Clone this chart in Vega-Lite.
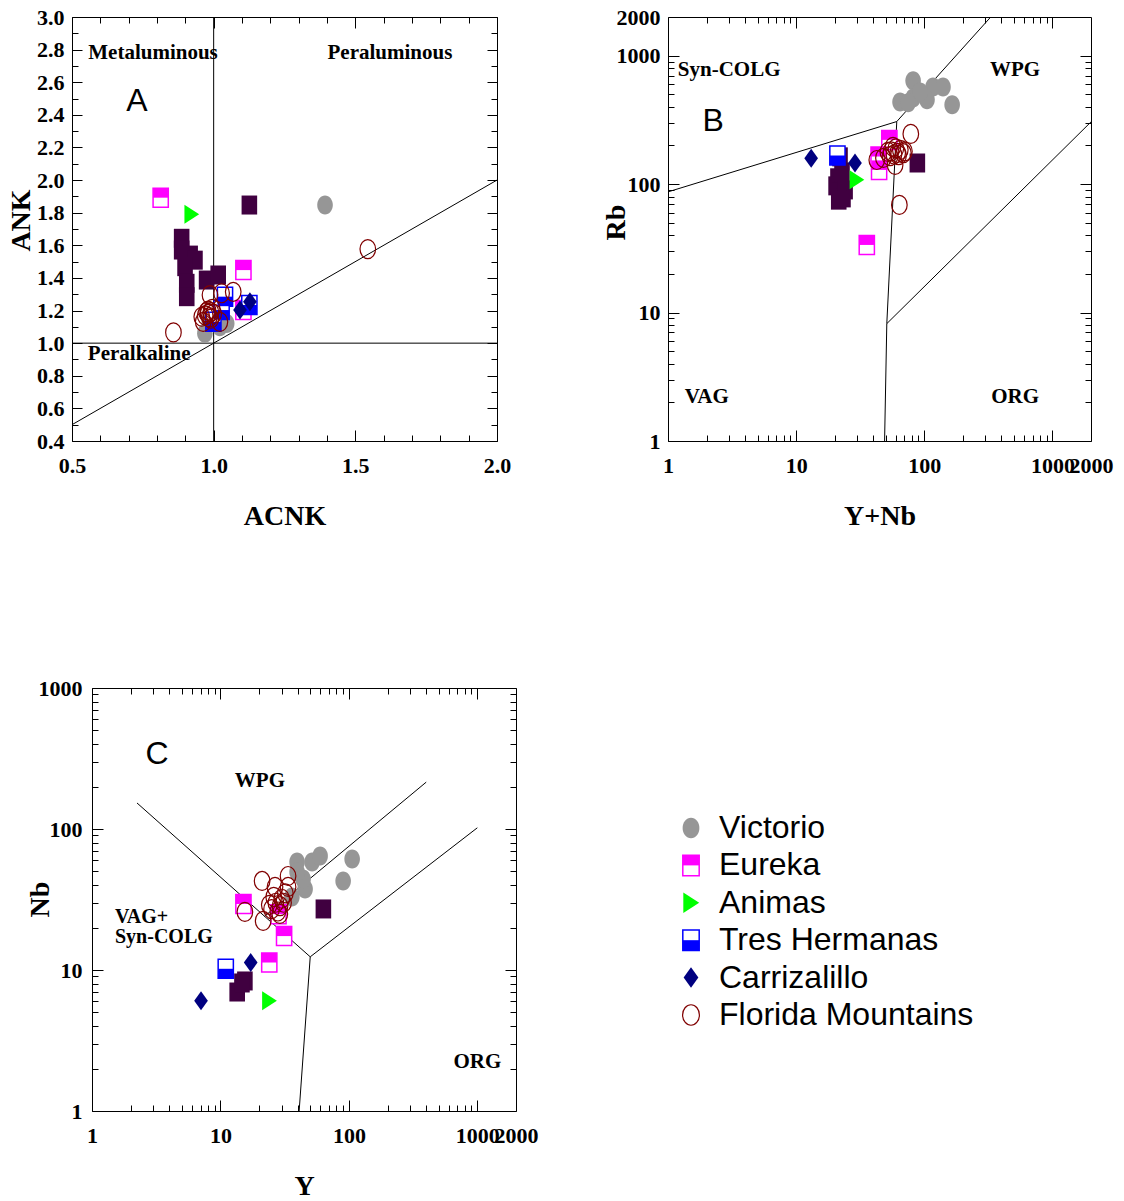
{
 "$schema": "https://vega.github.io/schema/vega-lite/v6.json",
 "padding": {"left": 0, "top": 1, "right": 0, "bottom": 0},
 "background": "white",
 "datasets": {
  "linesA": [{"x1":1,"y1":0.4,"x2":1,"y2":3},{"x1":0.5,"y1":1,"x2":2,"y2":1},{"x1":0.5,"y1":0.5,"x2":2,"y2":2}],
  "linesB": [{"x1":1,"y1":87,"x2":61,"y2":307},{"x1":61,"y1":307,"x2":330,"y2":2000},{"x1":61,"y1":307,"x2":51,"y2":8.2},{"x1":51,"y1":8.2,"x2":49,"y2":1},{"x1":51,"y1":8.2,"x2":2000,"y2":305}],
  "linesC": [{"x1":2.24,"y1":153,"x2":50,"y2":12.4},{"x1":50,"y1":12.4,"x2":41,"y2":1},{"x1":50,"y1":12.4,"x2":1000,"y2":102},{"x1":22,"y1":24,"x2":400,"y2":215}],
  "labA": [{"x":0.786,"y":2.779,"t":"Metaluminous","k":"r"},{"x":1.622,"y":2.779,"t":"Peraluminous","k":"r"},{"x":0.737,"y":0.933,"t":"Peralkaline","k":"r"},{"x":0.729,"y":2.485,"t":"A","k":"p"}],
  "labB": [{"x":3.0,"y":775,"t":"Syn-COLG","k":"r"},{"x":511,"y":775,"t":"WPG","k":"r"},{"x":2.01,"y":2.2,"t":"VAG","k":"r"},{"x":511,"y":2.2,"t":"ORG","k":"r"},{"x":2.25,"y":311,"t":"B","k":"p"}],
  "labC": [{"x":20.3,"y":219,"t":"WPG","k":"r"},{"x":1.51,"y":23.6,"t":["VAG+","Syn-COLG"],"k":"m"},{"x":1000,"y":2.23,"t":"ORG","k":"r"},{"x":3.21,"y":340,"t":"C","k":"p"}],
  "ptsA": [
   {"g":"Victorio","x":1.393,"y":1.847},{"g":"Victorio","x":0.969,"y":1.06},{"g":"Victorio","x":1.022,"y":1.10},{"g":"Victorio","x":1.046,"y":1.12},{"g":"Victorio","x":0.985,"y":1.13},
   {"g":"Other","x":0.887,"y":1.643},{"g":"Other","x":0.887,"y":1.571},{"g":"Other","x":0.917,"y":1.540},{"g":"Other","x":0.934,"y":1.509},{"g":"Other","x":0.899,"y":1.469},{"g":"Other","x":0.905,"y":1.367},{"g":"Other","x":0.905,"y":1.285},{"g":"Other","x":0.975,"y":1.387},{"g":"Other","x":1.016,"y":1.418},{"g":"Other","x":1.126,"y":1.847},
   {"g":"Eureka","x":0.813,"y":1.892},{"g":"Eureka","x":1.105,"y":1.448},{"g":"Eureka","x":1.105,"y":1.203},
   {"g":"Animas","x":0.922,"y":1.790},
   {"g":"Tres Hermanas","x":1.040,"y":1.285},{"g":"Tres Hermanas","x":1.126,"y":1.234},{"g":"Tres Hermanas","x":1.028,"y":1.203},{"g":"Tres Hermanas","x":0.999,"y":1.131},
   {"g":"Carrizalillo","x":1.128,"y":1.254},{"g":"Carrizalillo","x":1.093,"y":1.203},
   {"g":"Florida Mountains","x":0.97,"y":1.17},{"g":"Florida Mountains","x":0.98,"y":1.20},{"g":"Florida Mountains","x":0.99,"y":1.15},{"g":"Florida Mountains","x":1.0,"y":1.18},{"g":"Florida Mountains","x":0.975,"y":1.19},{"g":"Florida Mountains","x":0.995,"y":1.21},{"g":"Florida Mountains","x":0.985,"y":1.16},{"g":"Florida Mountains","x":0.99,"y":1.19},{"g":"Florida Mountains","x":0.98,"y":1.18},{"g":"Florida Mountains","x":1.028,"y":1.306},{"g":"Florida Mountains","x":1.069,"y":1.315},{"g":"Florida Mountains","x":0.987,"y":1.295},{"g":"Florida Mountains","x":0.858,"y":1.066},{"g":"Florida Mountains","x":0.958,"y":1.162},{"g":"Florida Mountains","x":0.963,"y":1.131},{"g":"Florida Mountains","x":1.022,"y":1.131},{"g":"Florida Mountains","x":1.544,"y":1.577}
  ],
  "ptsB": [
   {"g":"Victorio","x":81.8,"y":637},{"g":"Victorio","x":117,"y":571},{"g":"Victorio","x":140,"y":571},{"g":"Victorio","x":64.7,"y":436},{"g":"Victorio","x":81.8,"y":469},{"g":"Victorio","x":105,"y":453},{"g":"Victorio","x":92.7,"y":522},{"g":"Victorio","x":165,"y":414},{"g":"Victorio","x":74.8,"y":429},
   {"g":"Other","x":22,"y":163},{"g":"Other","x":21.2,"y":112},{"g":"Other","x":20.5,"y":96.9},{"g":"Other","x":22,"y":87},{"g":"Other","x":23.2,"y":78.1},{"g":"Other","x":24.1,"y":90.1},{"g":"Other","x":22.8,"y":124},{"g":"Other","x":21.5,"y":75},{"g":"Other","x":88.3,"y":146},
   {"g":"Eureka","x":53.4,"y":221},{"g":"Eureka","x":44.4,"y":129},{"g":"Eureka","x":44,"y":164},{"g":"Eureka","x":35.6,"y":33.6},
   {"g":"Animas","x":29.7,"y":108},
   {"g":"Tres Hermanas","x":21,"y":167},
   {"g":"Carrizalillo","x":13.1,"y":159},{"g":"Carrizalillo","x":28.8,"y":146},
   {"g":"Florida Mountains","x":55,"y":180},{"g":"Florida Mountains","x":60,"y":190},{"g":"Florida Mountains","x":62,"y":175},{"g":"Florida Mountains","x":58,"y":170},{"g":"Florida Mountains","x":65,"y":185},{"g":"Florida Mountains","x":52,"y":178},{"g":"Florida Mountains","x":57,"y":195},{"g":"Florida Mountains","x":63,"y":168},{"g":"Florida Mountains","x":68.7,"y":174},{"g":"Florida Mountains","x":59.2,"y":141},{"g":"Florida Mountains","x":42.6,"y":154},{"g":"Florida Mountains","x":78.5,"y":246},{"g":"Florida Mountains","x":63.9,"y":68.9},{"g":"Florida Mountains","x":48,"y":160},{"g":"Florida Mountains","x":70,"y":180},{"g":"Florida Mountains","x":54,"y":165}
  ],
  "ptsC": [
   {"g":"Victorio","x":39.5,"y":58.3},{"g":"Victorio","x":51.7,"y":58.3},{"g":"Victorio","x":59.7,"y":64.4},{"g":"Victorio","x":106,"y":61.3},{"g":"Victorio","x":90.2,"y":42.8},{"g":"Victorio","x":45.6,"y":37.5},{"g":"Victorio","x":44,"y":44.2},{"g":"Victorio","x":39.5,"y":49.5},{"g":"Victorio","x":36,"y":33},
   {"g":"Other","x":13.5,"y":6.98},{"g":"Other","x":15.5,"y":8.36},{"g":"Other","x":14.7,"y":8.09},{"g":"Other","x":63.3,"y":27.1},
   {"g":"Eureka","x":15.1,"y":29.4},{"g":"Eureka","x":31.3,"y":17.4},{"g":"Eureka","x":24.0,"y":11.3},{"g":"Eureka","x":28.3,"y":24.9},
   {"g":"Animas","x":24.0,"y":6.06},
   {"g":"Tres Hermanas","x":11.0,"y":10.2},
   {"g":"Carrizalillo","x":17.2,"y":11.3},{"g":"Carrizalillo","x":7.06,"y":6.06},
   {"g":"Florida Mountains","x":21.1,"y":42.8},{"g":"Florida Mountains","x":33.6,"y":46.4},{"g":"Florida Mountains","x":26.6,"y":38.8},{"g":"Florida Mountains","x":33.6,"y":38.8},{"g":"Florida Mountains","x":15.5,"y":25.8},{"g":"Florida Mountains","x":21.5,"y":22.3},{"g":"Florida Mountains","x":29.1,"y":28.4},{"g":"Florida Mountains","x":27,"y":30},{"g":"Florida Mountains","x":30,"y":32},{"g":"Florida Mountains","x":25,"y":27},{"g":"Florida Mountains","x":28,"y":26},{"g":"Florida Mountains","x":31,"y":30},{"g":"Florida Mountains","x":26,"y":33},{"g":"Florida Mountains","x":24,"y":29},{"g":"Florida Mountains","x":32,"y":35},{"g":"Florida Mountains","x":29,"y":25}
  ],
  "legend": [{"r":1,"g":"Victorio"},{"r":2,"g":"Eureka"},{"r":3,"g":"Animas"},{"r":4,"g":"Tres Hermanas"},{"r":5,"g":"Carrizalillo"},{"r":6,"g":"Florida Mountains"}]
 },
 "spacing": 135,
 "vconcat": [
  {
   "spacing": 0,
   "hconcat": [
    {"width": 1, "height": 1, "view": {"stroke": null}, "data": {"values": [{"a": 0}]}, "mark": {"type": "point", "size": 1, "opacity": 0}},
    {
     "spacing": 75,
     "hconcat": [
      {
       "width": 425, "height": 424,
       "resolve": {"axis": {"x": "independent", "y": "independent"}},
       "layer": [
        {"data": {"name": "linesA"}, "mark": {"type": "rule", "color": "black", "strokeWidth": 1},
         "encoding": {
          "x": {"field": "x1", "type": "quantitative", "scale": {"type": "linear", "domain": [0.5, 2], "nice": false, "zero": false}, "axis": {"orient": "bottom", "values": [0.5,1,1.5,2], "format": ".1f", "ticks": false, "labelPadding": 14, "minExtent": 95, "title": "ACNK", "titleY": 75, "titleBaseline": "middle", "titleAlign": "center"}},
          "y": {"field": "y1", "type": "quantitative", "scale": {"type": "linear", "domain": [0.4, 3], "nice": false, "zero": false}, "axis": {"orient": "left", "values": [0.4,0.6,0.8,1,1.2,1.4,1.6,1.8,2,2.2,2.4,2.6,2.8,3], "format": ".1f", "ticks": false, "labelPadding": 8, "minExtent": 70, "title": "ANK", "titleX": -51, "titleY": 203, "titleBaseline": "middle", "titleAlign": "center"}},
          "x2": {"field": "x2"}, "y2": {"field": "y2"}}},
        {"data": {"name": "ptsA"}, "transform": [{"filter": "datum.g=='Victorio'"}],
         "mark": {"type": "point", "shape": "M0,-1A0.82,1,0,1,1,0,1A0.82,1,0,1,1,0,-1Z", "size": 361, "filled": true, "color": "#969696", "opacity": 1},
         "encoding": {
          "x": {"field": "x", "type": "quantitative", "scale": {"type": "linear", "domain": [0.5, 2], "nice": false, "zero": false}, "axis": {"orient": "bottom", "values": [0.5,1,1.5,2], "labels": false, "ticks": true, "tickSize": 11, "offset": -11, "title": null}},
          "y": {"field": "y", "type": "quantitative", "scale": {"type": "linear", "domain": [0.4, 3], "nice": false, "zero": false}, "axis": {"orient": "left", "values": [0.4,0.6,0.8,1,1.2,1.4,1.6,1.8,2,2.2,2.4,2.6,2.8,3], "labels": false, "ticks": true, "tickSize": 10, "offset": -10, "title": null}}}},
        {"data": {"name": "ptsA"}, "transform": [{"filter": "datum.g=='Other'"}],
         "mark": {"type": "point", "shape": "M-0.82,-1H0.82V1H-0.82Z", "size": 361, "filled": true, "color": "#400040", "opacity": 1},
         "encoding": {
          "x": {"field": "x", "type": "quantitative", "scale": {"type": "linear", "domain": [0.5, 2], "nice": false, "zero": false}, "axis": {"orient": "top", "values": [0.5,1,1.5,2], "labels": false, "ticks": true, "tickSize": 11, "offset": -11, "title": null, "minExtent": 26}},
          "y": {"field": "y", "type": "quantitative", "scale": {"type": "linear", "domain": [0.4, 3], "nice": false, "zero": false}, "axis": {"orient": "right", "values": [0.4,0.6,0.8,1,1.2,1.4,1.6,1.8,2,2.2,2.4,2.6,2.8,3], "labels": false, "ticks": true, "tickSize": 10, "offset": -10, "title": null, "minExtent": 34}}}},
        {"data": {"name": "ptsA"}, "transform": [{"filter": "datum.g=='Eureka'"}],
         "mark": {"type": "point", "shape": "M-0.8,-1H0.8V1H-0.8Z", "size": 361, "filled": true, "fill": "white", "stroke": "#FF00FF", "strokeWidth": 1.5, "opacity": 1},
         "encoding": {
          "x": {"field": "x", "type": "quantitative", "scale": {"type": "linear", "domain": [0.5, 2], "nice": false, "zero": false}, "axis": {"orient": "bottom", "values": [0.6,0.7,0.8,0.9,1.1,1.2,1.3,1.4,1.6,1.7,1.8,1.9], "labels": false, "ticks": true, "tickSize": 6, "offset": -6, "title": null}},
          "y": {"field": "y", "type": "quantitative", "scale": {"type": "linear", "domain": [0.4, 3], "nice": false, "zero": false}, "axis": {"orient": "left", "values": [0.5,0.7,0.9,1.1,1.3,1.5,1.7,1.9,2.1,2.3,2.5,2.7,2.9], "labels": false, "ticks": true, "tickSize": 6, "offset": -6, "title": null}}}},
        {"data": {"name": "ptsA"}, "transform": [{"filter": "datum.g=='Eureka'"}],
         "mark": {"type": "point", "shape": "M-0.8,-1H0.8V0H-0.8Z", "size": 361, "filled": true, "color": "#FF00FF", "opacity": 1},
         "encoding": {
          "x": {"field": "x", "type": "quantitative", "scale": {"type": "linear", "domain": [0.5, 2], "nice": false, "zero": false}, "axis": {"orient": "top", "values": [0.6,0.7,0.8,0.9,1.1,1.2,1.3,1.4,1.6,1.7,1.8,1.9], "labels": false, "ticks": true, "tickSize": 6, "offset": -6, "title": null}},
          "y": {"field": "y", "type": "quantitative", "scale": {"type": "linear", "domain": [0.4, 3], "nice": false, "zero": false}, "axis": {"orient": "right", "values": [0.5,0.7,0.9,1.1,1.3,1.5,1.7,1.9,2.1,2.3,2.5,2.7,2.9], "labels": false, "ticks": true, "tickSize": 6, "offset": -6, "title": null}}}},
        {"data": {"name": "ptsA"}, "transform": [{"filter": "datum.g=='Animas'"}],
         "mark": {"type": "point", "shape": "M-0.75,-1L0.8,0L-0.75,1Z", "size": 361, "filled": true, "color": "#00FF00", "opacity": 1},
         "encoding": {"x": {"field": "x", "type": "quantitative", "axis": null}, "y": {"field": "y", "type": "quantitative", "axis": null}}},
        {"data": {"name": "ptsA"}, "transform": [{"filter": "datum.g=='Tres Hermanas'"}],
         "mark": {"type": "point", "shape": "M-0.8,-1H0.8V1H-0.8Z", "size": 361, "filled": true, "fill": "white", "stroke": "#0000FF", "strokeWidth": 1.5, "opacity": 1},
         "encoding": {"x": {"field": "x", "type": "quantitative", "axis": null}, "y": {"field": "y", "type": "quantitative", "axis": null}}},
        {"data": {"name": "ptsA"}, "transform": [{"filter": "datum.g=='Tres Hermanas'"}],
         "mark": {"type": "point", "shape": "M-0.8,0H0.8V1H-0.8Z", "size": 361, "filled": true, "color": "#0000FF", "opacity": 1},
         "encoding": {"x": {"field": "x", "type": "quantitative", "axis": null}, "y": {"field": "y", "type": "quantitative", "axis": null}}},
        {"data": {"name": "ptsA"}, "transform": [{"filter": "datum.g=='Carrizalillo'"}],
         "mark": {"type": "point", "shape": "M0,-1L0.72,0L0,1L-0.72,0Z", "size": 361, "filled": true, "color": "#000080", "opacity": 1},
         "encoding": {"x": {"field": "x", "type": "quantitative", "axis": null}, "y": {"field": "y", "type": "quantitative", "axis": null}}},
        {"data": {"name": "ptsA"}, "transform": [{"filter": "datum.g=='Florida Mountains'"}],
         "mark": {"type": "point", "shape": "M0,-1A0.82,1,0,1,1,0,1A0.82,1,0,1,1,0,-1Z", "size": 361, "filled": false, "color": "#800000", "strokeWidth": 1.2, "opacity": 1},
         "encoding": {"x": {"field": "x", "type": "quantitative", "axis": null}, "y": {"field": "y", "type": "quantitative", "axis": null}}},
        {"data": {"name": "labA"}, "transform": [{"filter": "datum.k=='r'"}],
         "mark": {"type": "text", "font": "Liberation Serif", "fontWeight": "bold", "fontSize": 21, "color": "black", "align": "center", "baseline": "middle"},
         "encoding": {"x": {"field": "x", "type": "quantitative", "axis": null}, "y": {"field": "y", "type": "quantitative", "axis": null}, "text": {"field": "t"}}},
        {"data": {"name": "labA"}, "transform": [{"filter": "datum.k=='p'"}],
         "mark": {"type": "text", "font": "Liberation Sans", "fontSize": 32, "color": "black", "align": "center", "baseline": "middle"},
         "encoding": {"x": {"field": "x", "type": "quantitative", "axis": null}, "y": {"field": "y", "type": "quantitative", "axis": null}, "text": {"field": "t"}}}
       ]
      },
      {
       "width": 423, "height": 424,
       "resolve": {"axis": {"x": "independent", "y": "independent"}},
       "layer": [
        {"data": {"name": "linesB"}, "mark": {"type": "rule", "color": "black", "strokeWidth": 1},
         "encoding": {
          "x": {"field": "x1", "type": "quantitative", "scale": {"type": "log", "domain": [1, 2000], "nice": false}, "axis": {"orient": "bottom", "values": [1,10,100,1000,2000], "format": "d", "ticks": false, "labelPadding": 14, "minExtent": 95, "title": "Y+Nb", "titleY": 75, "titleBaseline": "middle", "titleAlign": "center"}},
          "y": {"field": "y1", "type": "quantitative", "scale": {"type": "log", "domain": [1, 2000], "nice": false}, "axis": {"orient": "left", "values": [1,10,100,1000,2000], "format": "d", "ticks": false, "labelPadding": 8, "minExtent": 70, "title": "Rb", "titleX": -52, "titleY": 205, "titleBaseline": "middle", "titleAlign": "center"}},
          "x2": {"field": "x2"}, "y2": {"field": "y2"}}},
        {"data": {"name": "ptsB"}, "transform": [{"filter": "datum.g=='Victorio'"}],
         "mark": {"type": "point", "shape": "M0,-1A0.82,1,0,1,1,0,1A0.82,1,0,1,1,0,-1Z", "size": 361, "filled": true, "color": "#969696", "opacity": 1},
         "encoding": {
          "x": {"field": "x", "type": "quantitative", "scale": {"type": "log", "domain": [1, 2000], "nice": false}, "axis": {"orient": "bottom", "values": [1,10,100,1000], "labels": false, "ticks": true, "tickSize": 11, "offset": -11, "title": null}},
          "y": {"field": "y", "type": "quantitative", "scale": {"type": "log", "domain": [1, 2000], "nice": false}, "axis": {"orient": "left", "values": [1,10,100,1000], "labels": false, "ticks": true, "tickSize": 11, "offset": -11, "title": null}}}},
        {"data": {"name": "ptsB"}, "transform": [{"filter": "datum.g=='Other'"}],
         "mark": {"type": "point", "shape": "M-0.82,-1H0.82V1H-0.82Z", "size": 361, "filled": true, "color": "#400040", "opacity": 1},
         "encoding": {
          "x": {"field": "x", "type": "quantitative", "scale": {"type": "log", "domain": [1, 2000], "nice": false}, "axis": {"orient": "top", "values": [1,10,100,1000], "labels": false, "ticks": true, "tickSize": 11, "offset": -11, "title": null, "minExtent": 26}},
          "y": {"field": "y", "type": "quantitative", "scale": {"type": "log", "domain": [1, 2000], "nice": false}, "axis": {"orient": "right", "values": [1,10,100,1000], "labels": false, "ticks": true, "tickSize": 11, "offset": -11, "title": null, "minExtent": 35}}}},
        {"data": {"name": "ptsB"}, "transform": [{"filter": "datum.g=='Eureka'"}],
         "mark": {"type": "point", "shape": "M-0.8,-1H0.8V1H-0.8Z", "size": 361, "filled": true, "fill": "white", "stroke": "#FF00FF", "strokeWidth": 1.5, "opacity": 1},
         "encoding": {
          "x": {"field": "x", "type": "quantitative", "scale": {"type": "log", "domain": [1, 2000], "nice": false}, "axis": {"orient": "bottom", "values": [2,3,4,5,6,7,8,9,20,30,40,50,60,70,80,90,200,300,400,500,600,700,800,900], "labels": false, "ticks": true, "tickSize": 6, "offset": -6, "title": null}},
          "y": {"field": "y", "type": "quantitative", "scale": {"type": "log", "domain": [1, 2000], "nice": false}, "axis": {"orient": "left", "values": [2,3,4,5,6,7,8,9,20,30,40,50,60,70,80,90,200,300,400,500,600,700,800,900], "labels": false, "ticks": true, "tickSize": 6, "offset": -6, "title": null}}}},
        {"data": {"name": "ptsB"}, "transform": [{"filter": "datum.g=='Eureka'"}],
         "mark": {"type": "point", "shape": "M-0.8,-1H0.8V0H-0.8Z", "size": 361, "filled": true, "color": "#FF00FF", "opacity": 1},
         "encoding": {
          "x": {"field": "x", "type": "quantitative", "scale": {"type": "log", "domain": [1, 2000], "nice": false}, "axis": {"orient": "top", "values": [2,3,4,5,6,7,8,9,20,30,40,50,60,70,80,90,200,300,400,500,600,700,800,900], "labels": false, "ticks": true, "tickSize": 6, "offset": -6, "title": null}},
          "y": {"field": "y", "type": "quantitative", "scale": {"type": "log", "domain": [1, 2000], "nice": false}, "axis": {"orient": "right", "values": [2,3,4,5,6,7,8,9,20,30,40,50,60,70,80,90,200,300,400,500,600,700,800,900], "labels": false, "ticks": true, "tickSize": 6, "offset": -6, "title": null}}}},
        {"data": {"name": "ptsB"}, "transform": [{"filter": "datum.g=='Animas'"}],
         "mark": {"type": "point", "shape": "M-0.75,-1L0.8,0L-0.75,1Z", "size": 361, "filled": true, "color": "#00FF00", "opacity": 1},
         "encoding": {"x": {"field": "x", "type": "quantitative", "axis": null}, "y": {"field": "y", "type": "quantitative", "axis": null}}},
        {"data": {"name": "ptsB"}, "transform": [{"filter": "datum.g=='Tres Hermanas'"}],
         "mark": {"type": "point", "shape": "M-0.8,-1H0.8V1H-0.8Z", "size": 361, "filled": true, "fill": "white", "stroke": "#0000FF", "strokeWidth": 1.5, "opacity": 1},
         "encoding": {"x": {"field": "x", "type": "quantitative", "axis": null}, "y": {"field": "y", "type": "quantitative", "axis": null}}},
        {"data": {"name": "ptsB"}, "transform": [{"filter": "datum.g=='Tres Hermanas'"}],
         "mark": {"type": "point", "shape": "M-0.8,0H0.8V1H-0.8Z", "size": 361, "filled": true, "color": "#0000FF", "opacity": 1},
         "encoding": {"x": {"field": "x", "type": "quantitative", "axis": null}, "y": {"field": "y", "type": "quantitative", "axis": null}}},
        {"data": {"name": "ptsB"}, "transform": [{"filter": "datum.g=='Carrizalillo'"}],
         "mark": {"type": "point", "shape": "M0,-1L0.72,0L0,1L-0.72,0Z", "size": 361, "filled": true, "color": "#000080", "opacity": 1},
         "encoding": {"x": {"field": "x", "type": "quantitative", "axis": null}, "y": {"field": "y", "type": "quantitative", "axis": null}}},
        {"data": {"name": "ptsB"}, "transform": [{"filter": "datum.g=='Florida Mountains'"}],
         "mark": {"type": "point", "shape": "M0,-1A0.82,1,0,1,1,0,1A0.82,1,0,1,1,0,-1Z", "size": 361, "filled": false, "color": "#800000", "strokeWidth": 1.2, "opacity": 1},
         "encoding": {"x": {"field": "x", "type": "quantitative", "axis": null}, "y": {"field": "y", "type": "quantitative", "axis": null}}},
        {"data": {"name": "labB"}, "transform": [{"filter": "datum.k=='r'"}],
         "mark": {"type": "text", "font": "Liberation Serif", "fontWeight": "bold", "fontSize": 21, "color": "black", "align": "center", "baseline": "middle"},
         "encoding": {"x": {"field": "x", "type": "quantitative", "axis": null}, "y": {"field": "y", "type": "quantitative", "axis": null}, "text": {"field": "t"}}},
        {"data": {"name": "labB"}, "transform": [{"filter": "datum.k=='p'"}],
         "mark": {"type": "text", "font": "Liberation Sans", "fontSize": 32, "color": "black", "align": "center", "baseline": "middle"},
         "encoding": {"x": {"field": "x", "type": "quantitative", "axis": null}, "y": {"field": "y", "type": "quantitative", "axis": null}, "text": {"field": "t"}}}
       ]
      }
     ]
    }
   ]
  },
  {
   "spacing": 0,
   "hconcat": [
    {"width": 1, "height": 1, "view": {"stroke": null}, "data": {"values": [{"a": 0}]}, "mark": {"type": "point", "size": 1, "opacity": 0}},
    {
     "spacing": 135,
     "hconcat": [
      {
       "width": 424, "height": 423,
       "resolve": {"axis": {"x": "independent", "y": "independent"}},
       "layer": [
        {"data": {"name": "linesC"}, "mark": {"type": "rule", "color": "black", "strokeWidth": 1},
         "encoding": {
          "x": {"field": "x1", "type": "quantitative", "scale": {"type": "log", "domain": [1, 2000], "nice": false}, "axis": {"orient": "bottom", "values": [1,10,100,1000,2000], "format": "d", "ticks": false, "labelPadding": 14, "minExtent": 90, "title": "Y", "titleY": 75, "titleBaseline": "middle", "titleAlign": "center"}},
          "y": {"field": "y1", "type": "quantitative", "scale": {"type": "log", "domain": [1, 1000], "nice": false}, "axis": {"orient": "left", "values": [1,10,100,1000], "format": "d", "ticks": false, "labelPadding": 10, "minExtent": 90, "title": "Nb", "titleX": -52, "titleY": 211, "titleBaseline": "middle", "titleAlign": "center"}},
          "x2": {"field": "x2"}, "y2": {"field": "y2"}}},
        {"data": {"name": "ptsC"}, "transform": [{"filter": "datum.g=='Victorio'"}],
         "mark": {"type": "point", "shape": "M0,-1A0.82,1,0,1,1,0,1A0.82,1,0,1,1,0,-1Z", "size": 361, "filled": true, "color": "#969696", "opacity": 1},
         "encoding": {
          "x": {"field": "x", "type": "quantitative", "scale": {"type": "log", "domain": [1, 2000], "nice": false}, "axis": {"orient": "bottom", "values": [1,10,100,1000], "labels": false, "ticks": true, "tickSize": 11, "offset": -11, "title": null}},
          "y": {"field": "y", "type": "quantitative", "scale": {"type": "log", "domain": [1, 1000], "nice": false}, "axis": {"orient": "left", "values": [1,10,100,1000], "labels": false, "ticks": true, "tickSize": 11, "offset": -11, "title": null}}}},
        {"data": {"name": "ptsC"}, "transform": [{"filter": "datum.g=='Other'"}],
         "mark": {"type": "point", "shape": "M-0.82,-1H0.82V1H-0.82Z", "size": 361, "filled": true, "color": "#400040", "opacity": 1},
         "encoding": {
          "x": {"field": "x", "type": "quantitative", "scale": {"type": "log", "domain": [1, 2000], "nice": false}, "axis": {"orient": "top", "values": [1,10,100,1000], "labels": false, "ticks": true, "tickSize": 11, "offset": -11, "title": null, "minExtent": 26}},
          "y": {"field": "y", "type": "quantitative", "scale": {"type": "log", "domain": [1, 1000], "nice": false}, "axis": {"orient": "right", "values": [1,10,100,1000], "labels": false, "ticks": true, "tickSize": 11, "offset": -11, "title": null, "minExtent": 35}}}},
        {"data": {"name": "ptsC"}, "transform": [{"filter": "datum.g=='Eureka'"}],
         "mark": {"type": "point", "shape": "M-0.8,-1H0.8V1H-0.8Z", "size": 361, "filled": true, "fill": "white", "stroke": "#FF00FF", "strokeWidth": 1.5, "opacity": 1},
         "encoding": {
          "x": {"field": "x", "type": "quantitative", "scale": {"type": "log", "domain": [1, 2000], "nice": false}, "axis": {"orient": "bottom", "values": [2,3,4,5,6,7,8,9,20,30,40,50,60,70,80,90,200,300,400,500,600,700,800,900], "labels": false, "ticks": true, "tickSize": 6, "offset": -6, "title": null}},
          "y": {"field": "y", "type": "quantitative", "scale": {"type": "log", "domain": [1, 1000], "nice": false}, "axis": {"orient": "left", "values": [2,3,4,5,6,7,8,9,20,30,40,50,60,70,80,90,200,300,400,500,600,700,800,900], "labels": false, "ticks": true, "tickSize": 6, "offset": -6, "title": null}}}},
        {"data": {"name": "ptsC"}, "transform": [{"filter": "datum.g=='Eureka'"}],
         "mark": {"type": "point", "shape": "M-0.8,-1H0.8V0H-0.8Z", "size": 361, "filled": true, "color": "#FF00FF", "opacity": 1},
         "encoding": {
          "x": {"field": "x", "type": "quantitative", "scale": {"type": "log", "domain": [1, 2000], "nice": false}, "axis": {"orient": "top", "values": [2,3,4,5,6,7,8,9,20,30,40,50,60,70,80,90,200,300,400,500,600,700,800,900], "labels": false, "ticks": true, "tickSize": 6, "offset": -6, "title": null}},
          "y": {"field": "y", "type": "quantitative", "scale": {"type": "log", "domain": [1, 1000], "nice": false}, "axis": {"orient": "right", "values": [2,3,4,5,6,7,8,9,20,30,40,50,60,70,80,90,200,300,400,500,600,700,800,900], "labels": false, "ticks": true, "tickSize": 6, "offset": -6, "title": null}}}},
        {"data": {"name": "ptsC"}, "transform": [{"filter": "datum.g=='Animas'"}],
         "mark": {"type": "point", "shape": "M-0.75,-1L0.8,0L-0.75,1Z", "size": 361, "filled": true, "color": "#00FF00", "opacity": 1},
         "encoding": {"x": {"field": "x", "type": "quantitative", "axis": null}, "y": {"field": "y", "type": "quantitative", "axis": null}}},
        {"data": {"name": "ptsC"}, "transform": [{"filter": "datum.g=='Tres Hermanas'"}],
         "mark": {"type": "point", "shape": "M-0.8,-1H0.8V1H-0.8Z", "size": 361, "filled": true, "fill": "white", "stroke": "#0000FF", "strokeWidth": 1.5, "opacity": 1},
         "encoding": {"x": {"field": "x", "type": "quantitative", "axis": null}, "y": {"field": "y", "type": "quantitative", "axis": null}}},
        {"data": {"name": "ptsC"}, "transform": [{"filter": "datum.g=='Tres Hermanas'"}],
         "mark": {"type": "point", "shape": "M-0.8,0H0.8V1H-0.8Z", "size": 361, "filled": true, "color": "#0000FF", "opacity": 1},
         "encoding": {"x": {"field": "x", "type": "quantitative", "axis": null}, "y": {"field": "y", "type": "quantitative", "axis": null}}},
        {"data": {"name": "ptsC"}, "transform": [{"filter": "datum.g=='Carrizalillo'"}],
         "mark": {"type": "point", "shape": "M0,-1L0.72,0L0,1L-0.72,0Z", "size": 361, "filled": true, "color": "#000080", "opacity": 1},
         "encoding": {"x": {"field": "x", "type": "quantitative", "axis": null}, "y": {"field": "y", "type": "quantitative", "axis": null}}},
        {"data": {"name": "ptsC"}, "transform": [{"filter": "datum.g=='Florida Mountains'"}],
         "mark": {"type": "point", "shape": "M0,-1A0.82,1,0,1,1,0,1A0.82,1,0,1,1,0,-1Z", "size": 361, "filled": false, "color": "#800000", "strokeWidth": 1.2, "opacity": 1},
         "encoding": {"x": {"field": "x", "type": "quantitative", "axis": null}, "y": {"field": "y", "type": "quantitative", "axis": null}}},
        {"data": {"name": "labC"}, "transform": [{"filter": "datum.k=='r'"}],
         "mark": {"type": "text", "font": "Liberation Serif", "fontWeight": "bold", "fontSize": 21, "color": "black", "align": "center", "baseline": "middle"},
         "encoding": {"x": {"field": "x", "type": "quantitative", "axis": null}, "y": {"field": "y", "type": "quantitative", "axis": null}, "text": {"field": "t"}}},
        {"data": {"name": "labC"}, "transform": [{"filter": "datum.k=='m'"}],
         "mark": {"type": "text", "font": "Liberation Serif", "fontWeight": "bold", "fontSize": 20, "color": "black", "align": "left", "baseline": "middle", "lineHeight": 20},
         "encoding": {"x": {"field": "x", "type": "quantitative", "axis": null}, "y": {"field": "y", "type": "quantitative", "axis": null}, "text": {"field": "t"}}},
        {"data": {"name": "labC"}, "transform": [{"filter": "datum.k=='p'"}],
         "mark": {"type": "text", "font": "Liberation Sans", "fontSize": 32, "color": "black", "align": "center", "baseline": "middle"},
         "encoding": {"x": {"field": "x", "type": "quantitative", "axis": null}, "y": {"field": "y", "type": "quantitative", "axis": null}, "text": {"field": "t"}}}
       ]
      },
      {
       "width": 30, "height": 423,
       "view": {"stroke": null},
       "data": {"name": "legend"},
       "layer": [
        {"transform": [{"filter": "datum.g=='Victorio'"}],
         "mark": {"type": "point", "shape": "M0,-1A0.82,1,0,1,1,0,1A0.82,1,0,1,1,0,-1Z", "size": 420, "filled": true, "color": "#969696", "opacity": 1},
         "encoding": {"y": {"field": "r", "type": "quantitative", "scale": {"domain": [-2.743, 8.567], "reverse": true, "nice": false, "zero": false}, "axis": null}}},
        {"transform": [{"filter": "datum.g=='Eureka'"}],
         "mark": {"type": "point", "shape": "M-0.8,-1H0.8V1H-0.8Z", "size": 420, "filled": true, "fill": "white", "stroke": "#FF00FF", "strokeWidth": 1.5, "opacity": 1},
         "encoding": {"y": {"field": "r", "type": "quantitative", "axis": null}}},
        {"transform": [{"filter": "datum.g=='Eureka'"}],
         "mark": {"type": "point", "shape": "M-0.8,-1H0.8V0H-0.8Z", "size": 420, "filled": true, "color": "#FF00FF", "opacity": 1},
         "encoding": {"y": {"field": "r", "type": "quantitative", "axis": null}}},
        {"transform": [{"filter": "datum.g=='Animas'"}],
         "mark": {"type": "point", "shape": "M-0.75,-1L0.8,0L-0.75,1Z", "size": 420, "filled": true, "color": "#00FF00", "opacity": 1},
         "encoding": {"y": {"field": "r", "type": "quantitative", "axis": null}}},
        {"transform": [{"filter": "datum.g=='Tres Hermanas'"}],
         "mark": {"type": "point", "shape": "M-0.8,-1H0.8V1H-0.8Z", "size": 420, "filled": true, "fill": "white", "stroke": "#0000FF", "strokeWidth": 1.5, "opacity": 1},
         "encoding": {"y": {"field": "r", "type": "quantitative", "axis": null}}},
        {"transform": [{"filter": "datum.g=='Tres Hermanas'"}],
         "mark": {"type": "point", "shape": "M-0.8,0H0.8V1H-0.8Z", "size": 420, "filled": true, "color": "#0000FF", "opacity": 1},
         "encoding": {"y": {"field": "r", "type": "quantitative", "axis": null}}},
        {"transform": [{"filter": "datum.g=='Carrizalillo'"}],
         "mark": {"type": "point", "shape": "M0,-1L0.72,0L0,1L-0.72,0Z", "size": 420, "filled": true, "color": "#000080", "opacity": 1},
         "encoding": {"y": {"field": "r", "type": "quantitative", "axis": null}}},
        {"transform": [{"filter": "datum.g=='Florida Mountains'"}],
         "mark": {"type": "point", "shape": "M0,-1A0.82,1,0,1,1,0,1A0.82,1,0,1,1,0,-1Z", "size": 420, "filled": false, "color": "#800000", "strokeWidth": 1.2, "opacity": 1},
         "encoding": {"y": {"field": "r", "type": "quantitative", "axis": null}}},
        {"mark": {"type": "text", "font": "Liberation Sans", "fontSize": 32, "color": "black", "align": "left", "baseline": "middle", "dx": 28},
         "encoding": {"y": {"field": "r", "type": "quantitative", "axis": null}, "text": {"field": "g"}}}
       ]
      }
     ]
    }
   ]
  }
 ],
 "config": {
  "view": {"stroke": "black", "strokeWidth": 1},
  "axis": {"domain": false, "grid": false, "labelFont": "Liberation Serif", "labelFontWeight": "bold", "labelFontSize": 22, "labelColor": "#000", "titleFont": "Liberation Serif", "titleFontWeight": "bold", "titleFontSize": 28, "titleColor": "#000", "tickColor": "#000", "tickWidth": 1, "labelOverlap": false, "labelFlush": false, "labelBound": false, "minExtent": 0}
 }
}
